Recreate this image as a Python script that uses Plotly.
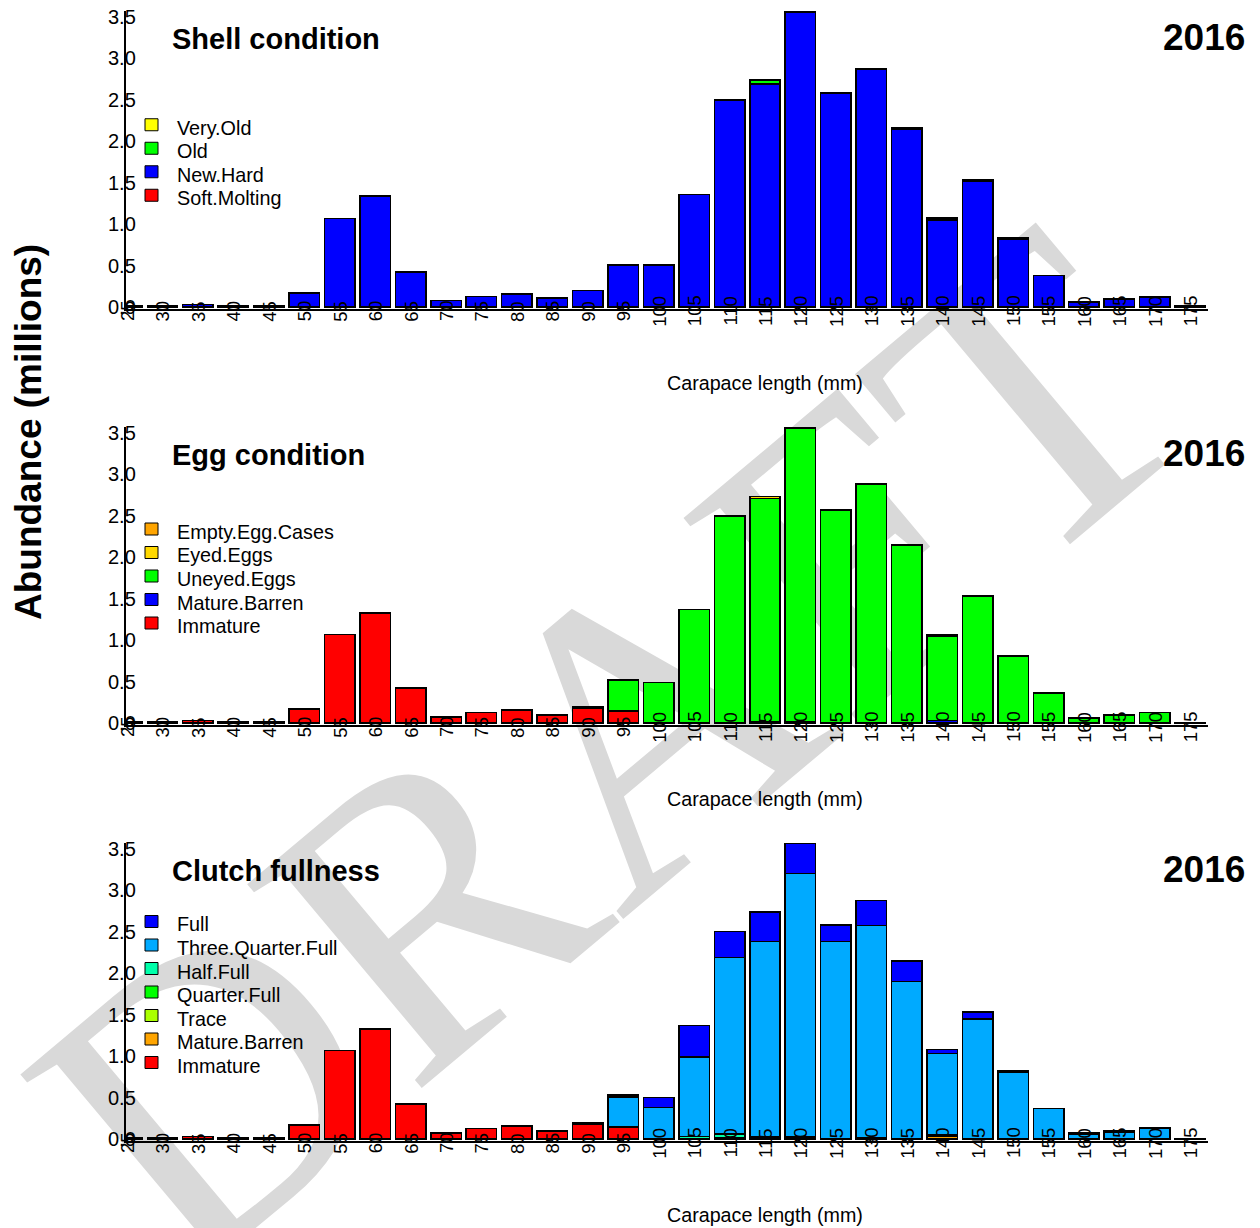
import base64
import plotly.graph_objects as go

W, H = 1260, 1228
FONT = "Liberation Sans, Arial, Helvetica, sans-serif"

# ---------------- data ----------------
sizes = [25, 30, 35, 40, 45, 50, 55, 60, 65, 70, 75, 80, 85, 90, 95, 100,
         105, 110, 115, 120, 125, 130, 135, 140, 145, 150, 155, 160, 165, 170, 175]
x_tick_labels = ["25", "30", "35", "40", "45", "50", "55", "60", "65", "70", "75", "80",
                 "85", "90", "95", "100", "105", "110", "115", "120", "125", "130", "135",
                 "140", "145", "150", "155", "160", "165", "170", "175"]
y_tick_vals = [0.0, 0.5, 1.0, 1.5, 2.0, 2.5, 3.0, 3.5]
y_tick_labels = ["0.0", "0.5", "1.0", "1.5", "2.0", "2.5", "3.0", "3.5"]
year_label = "2016"

# Shell condition (stack order bottom -> top)
shell_soft_molting = [0, 0, 0, 0, 0, 0, 0, 0, 0, 0, 0, 0, 0, 0, 0, 0,
                      0, 0, 0, 0, 0, 0, 0, 0, 0, 0, 0, 0, 0, 0, 0]
shell_new_hard = [0.01, 0.01, 0.03, 0.01, 0.01, 0.17, 1.07, 1.34, 0.42, 0.08, 0.13, 0.16, 0.11, 0.20, 0.51, 0.51,
                  1.36, 2.49, 2.69, 3.55, 2.58, 2.87, 2.15, 1.05, 1.52, 0.82, 0.38, 0.06, 0.10, 0.12, 0.01]
shell_old = [0, 0, 0, 0, 0, 0, 0, 0, 0, 0, 0, 0, 0, 0, 0, 0,
             0, 0.01, 0.05, 0.01, 0, 0, 0.01, 0.02, 0.01, 0.01, 0, 0, 0, 0, 0]
shell_very_old = [0, 0, 0, 0, 0, 0, 0, 0, 0, 0, 0, 0, 0, 0, 0, 0,
                  0, 0, 0, 0, 0, 0, 0, 0.005, 0, 0, 0, 0, 0, 0, 0]

# Egg condition
egg_immature = [0.01, 0.01, 0.03, 0.01, 0.01, 0.17, 1.07, 1.33, 0.42, 0.07, 0.13, 0.16, 0.10, 0.18, 0.14, 0,
                0, 0, 0, 0, 0, 0, 0, 0, 0, 0, 0, 0, 0, 0, 0]
egg_mature_barren = [0, 0, 0, 0, 0, 0, 0, 0, 0, 0, 0, 0, 0, 0.02, 0.01, 0,
                     0, 0, 0.02, 0.01, 0, 0, 0, 0.03, 0, 0, 0, 0, 0, 0, 0]
egg_uneyed = [0, 0, 0, 0, 0, 0, 0, 0, 0, 0, 0, 0, 0, 0, 0.37, 0.49,
              1.37, 2.49, 2.69, 3.55, 2.57, 2.88, 2.15, 1.02, 1.53, 0.81, 0.36, 0.06, 0.10, 0.13, 0.005]
egg_eyed = [0, 0, 0, 0, 0, 0, 0, 0, 0, 0, 0, 0, 0, 0, 0, 0,
            0, 0.01, 0.02, 0, 0, 0, 0, 0.01, 0.01, 0, 0, 0, 0, 0, 0]
egg_empty_cases = [0, 0, 0, 0, 0, 0, 0, 0, 0, 0, 0, 0, 0, 0, 0, 0,
                   0, 0, 0, 0.01, 0, 0, 0, 0, 0, 0, 0, 0, 0, 0, 0]

# Clutch fullness
cl_immature = [0.01, 0.01, 0.03, 0.01, 0.01, 0.17, 1.07, 1.33, 0.42, 0.07, 0.13, 0.16, 0.10, 0.18, 0.14, 0,
               0, 0, 0, 0, 0, 0, 0, 0, 0, 0, 0, 0, 0, 0, 0]
cl_mature_barren = [0, 0, 0, 0, 0, 0, 0, 0, 0, 0, 0, 0, 0, 0.02, 0.01, 0,
                    0, 0, 0.02, 0.01, 0, 0, 0, 0.03, 0, 0, 0, 0, 0, 0, 0]
cl_trace = [0, 0, 0, 0, 0, 0, 0, 0, 0, 0, 0, 0, 0, 0, 0, 0,
            0, 0, 0, 0.005, 0, 0, 0, 0.02, 0, 0, 0, 0, 0, 0, 0]
cl_quarter = [0, 0, 0, 0, 0, 0, 0, 0, 0, 0, 0, 0, 0, 0, 0, 0,
              0, 0.01, 0, 0, 0, 0.005, 0, 0, 0, 0, 0, 0, 0, 0, 0]
cl_half = [0, 0, 0, 0, 0, 0, 0, 0, 0, 0, 0, 0, 0, 0, 0, 0,
           0.03, 0.05, 0.01, 0.01, 0, 0.01, 0, 0, 0, 0, 0, 0, 0, 0, 0]
cl_three_quarter = [0, 0, 0, 0, 0, 0, 0, 0, 0, 0, 0, 0, 0, 0, 0.36, 0.38,
                    0.96, 2.13, 2.35, 3.18, 2.38, 2.56, 1.90, 0.98, 1.45, 0.80, 0.37, 0.06, 0.08, 0.13, 0.005]
cl_full = [0, 0, 0, 0, 0, 0, 0, 0, 0, 0, 0, 0, 0, 0, 0.02, 0.12,
           0.38, 0.31, 0.36, 0.36, 0.20, 0.30, 0.25, 0.05, 0.08, 0.02, 0, 0.01, 0.02, 0.01, 0]

panels = [
    dict(title="Shell condition",
         series=[("Soft.Molting", shell_soft_molting, "#FF0000"),
                 ("New.Hard", shell_new_hard, "#0000FF"),
                 ("Old", shell_old, "#00FF00"),
                 ("Very.Old", shell_very_old, "#FFFF00")]),
    dict(title="Egg condition",
         series=[("Immature", egg_immature, "#FF0000"),
                 ("Mature.Barren", egg_mature_barren, "#0000FF"),
                 ("Uneyed.Eggs", egg_uneyed, "#00FF00"),
                 ("Eyed.Eggs", egg_eyed, "#FFD800"),
                 ("Empty.Egg.Cases", egg_empty_cases, "#FFA500")]),
    dict(title="Clutch fullness",
         series=[("Immature", cl_immature, "#FF0000"),
                 ("Mature.Barren", cl_mature_barren, "#FFA500"),
                 ("Trace", cl_trace, "#AAFF00"),
                 ("Quarter.Full", cl_quarter, "#00FF00"),
                 ("Half.Full", cl_half, "#00FFAA"),
                 ("Three.Quarter.Full", cl_three_quarter, "#00AAFF"),
                 ("Full", cl_full, "#0000FF")]),
]

# ---------------- layout geometry (pixels) ----------------
def px(x):
    return x / W

def py(y):
    return 1 - y / H

PANEL_STEP = 416
PLOT_TOP = 11
PLOT_H = 297.7
X_LEFT, X_RIGHT = 126, 1208

fig = go.Figure()
annotations = []
shapes = []
layout_axes = {}

for i, p in enumerate(panels):
    n = "" if i == 0 else str(i + 1)
    xa, ya = "x" + n, "y" + n
    top = PLOT_TOP + i * PANEL_STEP
    bot = top + PLOT_H
    for name, vals, col in p["series"]:
        fig.add_trace(go.Bar(x=sizes, y=vals, name=name, xaxis=xa, yaxis=ya,
                             marker=dict(color=col, line=dict(color="black", width=1.5)),
                             showlegend=False))
    layout_axes["xaxis" + n] = dict(domain=[px(X_LEFT), px(X_RIGHT)], range=[24.85, 177.5],
                                    anchor=ya, showline=True, linecolor="black", linewidth=2,
                                    showgrid=False, zeroline=False, showticklabels=False, ticks="")
    layout_axes["yaxis" + n] = dict(domain=[py(bot), py(top)], range=[-0.02, 3.57],
                                    anchor=xa, showline=True, linecolor="black", linewidth=2,
                                    showgrid=False, zeroline=False, showticklabels=False, ticks="")
    # x tick labels (rotated, straddling the axis)
    for s, lab in zip(sizes, x_tick_labels):
        annotations.append(dict(x=s, y=0, xref=xa, yref=ya, text=lab, showarrow=False,
                                textangle=-90, yshift=-4, xanchor="center", yanchor="middle",
                                font=dict(family=FONT, size=18.5, color="black")))
    # y tick labels
    for v, lab in zip(y_tick_vals, y_tick_labels):
        annotations.append(dict(x=px(122), y=v, xref="paper", yref=ya, text=lab, showarrow=False,
                                xanchor="center", yanchor="middle",
                                font=dict(family=FONT, size=20, color="black")))
    off = i * PANEL_STEP
    # panel title and year
    annotations.append(dict(x=px(170), y=py(39 + off), xref="paper", yref="paper", text="<b>%s</b>" % p["title"],
                            showarrow=False, xanchor="left", yanchor="middle",
                            font=dict(family=FONT, size=29, color="black")))
    annotations.append(dict(x=px(1247), y=py(37 + off), xref="paper", yref="paper", text="<b>%s</b>" % year_label,
                            showarrow=False, xanchor="right", yanchor="middle",
                            font=dict(family=FONT, size=37, color="black")))
    # x axis title
    annotations.append(dict(x=px(765), y=py(383 + off), xref="paper", yref="paper", text="Carapace length (mm)",
                            showarrow=False, xanchor="center", yanchor="middle",
                            font=dict(family=FONT, size=19.7, color="black")))
    # legend (top entry = last series)
    items = list(reversed(p["series"]))
    nrow = len(items)
    for k, (name, vals, col) in enumerate(items):
        cy = 160 + off + (k - (nrow - 1) / 2) * 23.5
        shapes.append(dict(type="rect", xref="paper", yref="paper",
                           x0=px(145), x1=px(158), y0=py(cy + 6), y1=py(cy - 6),
                           fillcolor=col, line=dict(color="black", width=1)))
        annotations.append(dict(x=px(175), y=py(cy + 3), xref="paper", yref="paper", text=name,
                                showarrow=False, xanchor="left", yanchor="middle",
                                font=dict(family=FONT, size=19.8, color="black")))

# shared y title
annotations.append(dict(x=px(29), y=py(432), xref="paper", yref="paper", text="<b>Abundance (millions)</b>",
                        showarrow=False, textangle=-90, xanchor="center", yanchor="middle",
                        font=dict(family=FONT, size=37, color="black")))

# DRAFT watermark behind the plot
svg = ('<svg xmlns="http://www.w3.org/2000/svg" width="%d" height="%d" viewBox="0 0 %d %d">'
       '<text x="610" y="750" font-family="Liberation Serif, Times New Roman, serif" font-size="410" '
       'fill="#d9d9d9" text-anchor="middle" dominant-baseline="central" '
       'transform="rotate(-40 610 750)">DRAFT</text></svg>') % (W, H, W, H)
src = "data:image/svg+xml;base64," + base64.b64encode(svg.encode()).decode()

fig.update_layout(
    width=W, height=H, margin=dict(l=0, r=0, t=0, b=0),
    paper_bgcolor="white", plot_bgcolor="rgba(0,0,0,0)",
    barmode="stack", bargap=0.14, showlegend=False,
    annotations=annotations, shapes=shapes,
    images=[dict(source=src, xref="paper", yref="paper", x=0, y=1, sizex=1, sizey=1,
                 xanchor="left", yanchor="top", sizing="stretch", layer="below")],
    **layout_axes,
)

fig.write_html("out.html", config={"displayModeBar": False},
               post_script="document.body.style.margin='0';document.body.style.overflow='hidden';")
